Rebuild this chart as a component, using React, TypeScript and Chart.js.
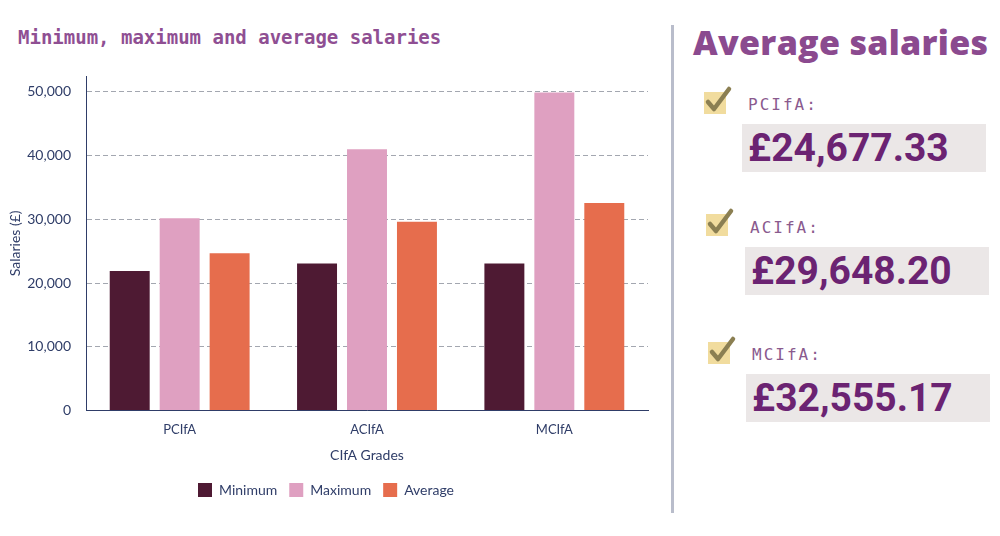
import React, { useEffect, useRef } from "react";
import { Chart, registerables } from "chart.js";

Chart.register(...registerables);

const categories = ["PCIfA", "ACIfA", "MCIfA"];
const minimumValues = [21900, 23100, 23100];
const maximumValues = [30200, 41000, 49900];
const averageValues = [24677.33, 29648.2, 32555.17];
const seriesNames = ["Minimum", "Maximum", "Average"];
const yTickStep = 10000;
const yTickTop = 50000;
const yAxisMax = 52500;
const averageLabels = ["PCIfA:", "ACIfA:", "MCIfA:"];
const averageTexts = ["£24,677.33", "£29,648.20", "£32,555.17"];

const NAVY = "#2f3d68";

function Check({ left, top }: { left: number; top: number }) {
  return (
    <svg
      width={32}
      height={32}
      style={{ position: "absolute", left, top }}
      viewBox="0 0 32 32"
    >
      <rect x={2} y={8} width={22} height={22} fill="#f1dc9e" />
      <path
        d="M6 18 L12 25 L27 5"
        fill="none"
        stroke="#8b7f52"
        strokeWidth={4.5}
        strokeLinecap="round"
        strokeLinejoin="round"
      />
    </svg>
  );
}

export default function App() {
  const canvasRef = useRef<HTMLCanvasElement | null>(null);

  useEffect(() => {
    if (!canvasRef.current) return;
    const chart = new Chart(canvasRef.current, {
      type: "bar",
      data: {
        labels: categories,
        datasets: [
          { label: seriesNames[0], data: minimumValues, backgroundColor: "#4e1a33" },
          { label: seriesNames[1], data: maximumValues, backgroundColor: "#dfa0c1" },
          { label: seriesNames[2], data: averageValues, backgroundColor: "#e66d4d" },
        ],
      },
      options: {
        animation: false,
        responsive: false,
        maintainAspectRatio: false,
        layout: { padding: { top: 76, left: 4, right: 12, bottom: 29 } },
        datasets: { bar: { categoryPercentage: 0.8, barPercentage: 0.8 } },
        plugins: {
          legend: {
            position: "bottom",
            labels: {
              boxWidth: 14,
              boxHeight: 14,
              padding: 12,
              color: NAVY,
              font: { family: "Lato", size: 14 },
            },
          },
          tooltip: { enabled: false },
        },
        scales: {
          x: {
            grid: { display: false },
            border: { display: true, color: NAVY, width: 1 },
            ticks: { color: NAVY, font: { family: "Lato", size: 13 }, padding: 3 },
            title: {
              display: true,
              text: "CIfA Grades",
              color: NAVY,
              font: { family: "Lato", size: 14 },
              padding: { top: 7, bottom: 7 },
            },
          },
          y: {
            beginAtZero: true,
            afterBuildTicks: (scale: any) => {
              scale.ticks = scale.ticks.filter((t: any) => t.value <= yTickTop);
              scale.max = yAxisMax;
            },
            afterFit: (scale: any) => {
              scale.width = 82;
            },
            ticks: {
              stepSize: yTickStep,
              color: NAVY,
              font: { family: "Lato", size: 14 },
              padding: 15,
              callback: (v: any) => Number(v).toLocaleString("en-GB"),
            },
            grid: {
              color: "#a3a7b0",
              drawTicks: false,
              lineWidth: 1,
            },
            border: { display: true, color: NAVY, width: 1, dash: [5, 3] },
            title: {
              display: true,
              text: "Salaries (£)",
              color: NAVY,
              font: { family: "Lato", size: 14 },
              padding: { top: 3, bottom: 0 },
            },
          },
        },
      },
    } as any);
    return () => chart.destroy();
  }, []);

  const blocks = [
    { checkL: 702, checkT: 84, labelL: 748, labelT: 95, boxL: 742, boxT: 124 },
    { checkL: 704, checkT: 206, labelL: 750, labelT: 218, boxL: 745, boxT: 247 },
    { checkL: 706, checkT: 334, labelL: 752, labelT: 345, boxL: 746, boxT: 374 },
  ];

  return (
    <div
      style={{
        position: "absolute",
        left: 0,
        top: 0,
        width: 1000,
        height: 536,
        background: "#ffffff",
        overflow: "hidden",
      }}
    >
      <div
        style={{
          position: "absolute",
          left: 18,
          top: 26,
          fontFamily: "'DejaVu Sans Mono', monospace",
          fontWeight: 700,
          fontSize: 19,
          color: "#8f4f93",
          whiteSpace: "nowrap",
          lineHeight: "22px",
        }}
      >
        Minimum, maximum and average salaries
      </div>
      <canvas
        ref={canvasRef}
        width={660}
        height={536}
        style={{ position: "absolute", left: 0, top: 0, width: 660, height: 536 }}
      />
      <div
        style={{
          position: "absolute",
          left: 671,
          top: 25,
          width: 3,
          height: 488,
          background: "#b9bdcb",
        }}
      />
      <div
        style={{
          position: "absolute",
          left: 693,
          top: 22,
          fontFamily: "'Open Sans', sans-serif",
          fontWeight: 800,
          fontSize: 34,
          letterSpacing: 0.3,
          color: "#8b4a8f",
          whiteSpace: "nowrap",
          lineHeight: "40px",
        }}
      >
        Average salaries
      </div>
      {blocks.map((b, i) => (
        <React.Fragment key={i}>
          <Check left={b.checkL} top={b.checkT} />
          <div
            style={{
              position: "absolute",
              left: b.labelL,
              top: b.labelT,
              fontFamily: "'DejaVu Sans Mono', monospace",
              fontSize: 16,
              letterSpacing: 2,
              color: "#8a5a8e",
              lineHeight: "20px",
              whiteSpace: "nowrap",
            }}
          >
            {averageLabels[i]}
          </div>
          <div
            style={{
              position: "absolute",
              left: b.boxL,
              top: b.boxT,
              width: 244,
              height: 48,
              background: "#ebe7e7",
            }}
          />
          <div
            style={{
              position: "absolute",
              left: b.boxL + 6,
              top: b.boxT + 1,
              fontFamily: "Roboto, sans-serif",
              fontWeight: 700,
              fontSize: 39,
              letterSpacing: 0,
              color: "#6b2372",
              lineHeight: "46px",
              whiteSpace: "nowrap",
            }}
          >
            {averageTexts[i]}
          </div>
        </React.Fragment>
      ))}
    </div>
  );
}
